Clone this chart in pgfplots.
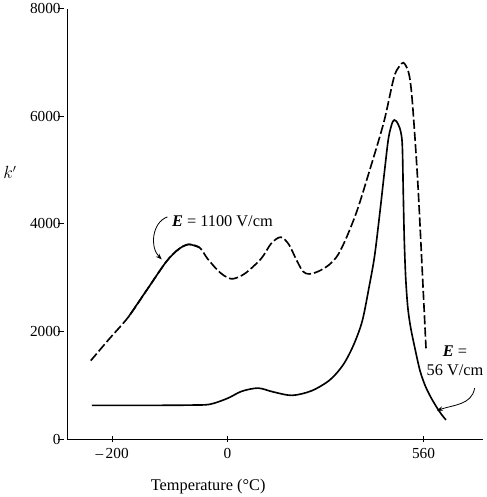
\documentclass[border=0pt]{standalone}
\usepackage{fontspec}
\setmainfont{Liberation Serif}
\usepackage{pgfplots}
\pgfplotsset{compat=1.18}
\usetikzlibrary{arrows.meta}

\begin{document}
\begin{tikzpicture}
\begin{axis}[
  scale only axis,
  width=407pt, height=422pt,
  xmin=-458, xmax=729, ymin=0, ymax=8000,
  axis x line=bottom, axis y line=left,
  axis line style={-, line width=0.9pt},
  xtick={-330,0,560},
  xticklabels={\textendash\,200, 0, 560},
  ytick={0,2000,4000,6000,8000},
  major tick length=6pt,
  tick style={line width=0.9pt, black},
  y tick style={xshift=-6pt},
  /pgf/number format/assume math mode=true,
  /pgf/number format/1000 sep={},
  tick label style={font=\fontsize{15}{17}\selectfont},
  xticklabel style={yshift=-2pt},
  xlabel={Temperature (°C)},
  xlabel style={at={(axis description cs:0.339,-0.109)}, anchor=center,
                font=\fontsize{16}{18}\selectfont},
  ylabel={$k'$},
  ylabel style={at={(axis description cs:-0.138,0.62)}, anchor=center,
                rotate=-90, font=\fontsize{16}{18}\selectfont},
  clip=false,
]
% E = 1100 V/cm
\addplot[black, line width=1.6pt, smooth, dash pattern=on 9pt off 3pt] coordinates {
(-391,1460) (-340,1850) (-283,2275) (-230,2780) (-175,3300) (-140,3530)
(-111,3620) (-80,3560) (-58,3360) (-30,3150) (-9,3035) (15,2980) (50,3080)
(96,3355) (125,3640) (152,3754) (175,3620) (195,3355) (215,3120) (233,3070)
(260,3120) (290,3240) (315,3420) (340,3750) (370,4246) (402,4910) (446,5877)
(475,6711) (490,6920) (502,6995) (514,6880) (522,6650) (530,6100)
(545,4600) (567,1690)
};
% solid stretch of the same curve
\addplot[black, line width=1.6pt, smooth] coordinates {
(-283,2275) (-230,2780) (-175,3300) (-140,3530) (-111,3620) (-80,3560)
};
% E = 56 V/cm
\addplot[black, line width=1.6pt, smooth] coordinates {
(-388,630) (-300,630) (-200,630) (-100,635) (-50,650) (0,760) (40,890)
(87,950) (130,880) (184,815) (240,900) (292,1100) (330,1380) (360,1750)
(385,2200) (405,2850) (420,3400) (435,4200) (448,4950) (460,5600)
(472,5900) (481,5915) (492,5780) (499,5500) (502,4600) (505,3700)
(509,3000) (515,2450) (523,2080) (535,1700) (550,1270) (565,990)
(580,790) (597,600) (612,455) (624,360)
};
\node[anchor=west, font=\fontsize{16}{18}\selectfont] at (axis cs:-169,4057)
  {\textbf{\textit{E}} = 1100 V/cm};
\draw[-{Stealth[length=6pt]}, line width=0.8pt] (axis cs:-172,4130)
  to[out=200, in=135] (axis cs:-188,3340);
\node[align=center, font=\fontsize{16}{18}\selectfont] at (axis cs:650,1460)
  {\textbf{\textit{E}} =\\56 V/cm};
\draw[-{Stealth[length=6pt]}, line width=0.8pt] (axis cs:706,948)
  to[out=-100, in=20] (axis cs:598,531);
\end{axis}
\end{tikzpicture}
\end{document}
